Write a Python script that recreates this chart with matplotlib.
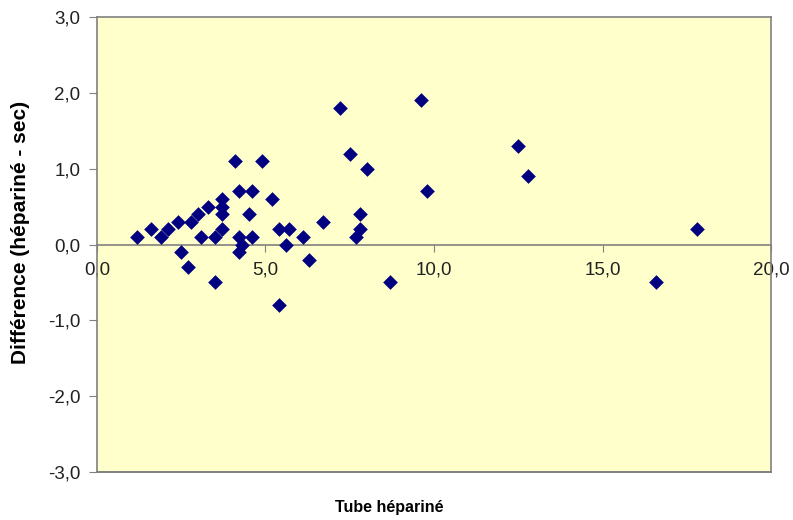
import matplotlib
matplotlib.use("Agg")
from matplotlib import pyplot as plt
from matplotlib.ticker import FuncFormatter

plt.rcParams['font.family'] = ['Liberation Sans', 'DejaVu Sans']

# tube hépariné vs différence (hépariné - sec)
tube_heparine = [1.2, 1.6, 1.9, 2.1, 2.4, 2.5, 2.7, 2.8, 3.0, 3.1,
                 3.3, 3.5, 3.5, 3.7, 3.7, 3.7, 3.7, 4.1, 4.2, 4.6,
                 4.5, 4.2, 4.3, 4.2, 4.6, 4.9, 5.2, 5.4, 5.6, 5.7,
                 5.4, 6.1, 6.3, 6.7, 7.2, 7.5, 7.8, 7.8, 7.7, 8.0,
                 8.7, 9.6, 9.8, 12.5, 12.8, 16.6, 17.8]
difference = [0.1, 0.2, 0.1, 0.2, 0.3, -0.1, -0.3, 0.3, 0.4, 0.1,
              0.5, 0.1, -0.5, 0.6, 0.5, 0.4, 0.2, 1.1, 0.7, 0.7,
              0.4, 0.1, 0.0, -0.1, 0.1, 1.1, 0.6, 0.2, 0.0, 0.2,
              -0.8, 0.1, -0.2, 0.3, 1.8, 1.2, 0.4, 0.2, 0.1, 1.0,
              -0.5, 1.9, 0.7, 1.3, 0.9, -0.5, 0.2]

xticks = [0, 5, 10, 15, 20]
yticks = [-3, -2, -1, 0, 1, 2, 3]

fig = plt.figure(figsize=(7.93, 5.2), dpi=100)
ax = fig.add_axes([0.1223, 0.0923, 0.8500, 0.8750])
ax.set_facecolor('#FFFFCC')

ax.scatter(tube_heparine, difference, marker='D', s=56, color='#000080',
           linewidths=0, zorder=3)

ax.set_xlim(0, 20)
ax.set_ylim(-3, 3)
ax.set_xticks(xticks)
ax.set_yticks(yticks)
comma = FuncFormatter(lambda v, p: ('%.1f' % v).replace('.', ','))
ax.xaxis.set_major_formatter(comma)
ax.yaxis.set_major_formatter(comma)

grey = '#808080'
for s in ['left', 'right', 'top']:
    ax.spines[s].set_color(grey)
    ax.spines[s].set_linewidth(1.2)
ax.spines['bottom'].set_position(('data', 0))
ax.spines['bottom'].set_color(grey)
ax.spines['bottom'].set_linewidth(1.2)
ax.axhline(-3, color=grey, lw=1.4, clip_on=False, zorder=4)

ax.tick_params(axis='x', direction='out', length=5, pad=7, color=grey,
               labelsize=13.5, labelcolor='#222222')
ax.tick_params(axis='y', direction='out', length=6, pad=6, color=grey,
               labelsize=13.5, labelcolor='#222222')

ax.set_xlabel('Tube hépariné', fontsize=11.5, fontweight='bold')
ax.xaxis.set_label_coords(0.433, -0.062)
ax.set_ylabel('Différence (hépariné - sec)', fontsize=15, fontweight='bold')
ax.yaxis.set_label_coords(-0.1, 0.527)

fig.savefig('out.png', dpi=100)
